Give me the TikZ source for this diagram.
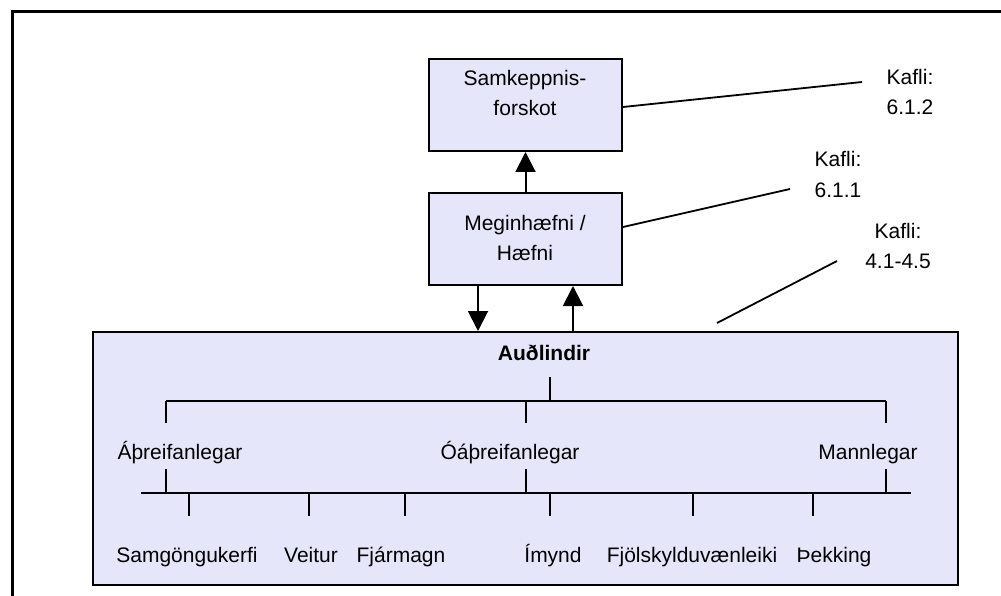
\documentclass[tikz,border=0pt]{standalone}
\usepackage{fontspec}
\setmainfont{Liberation Sans}
\usetikzlibrary{arrows.meta}
\definecolor{boxfill}{RGB}{230,230,250}
\begin{document}
\begin{tikzpicture}[x=1pt,y=-1pt,
  box/.style={draw=black,line width=2pt,fill=boxfill,inner sep=0pt},
  txt/.style={font=\fontsize{21}{30}\selectfont,inner sep=0pt,align=center,anchor=base},
  wire/.style={line width=2pt},
  lead/.style={line width=1.8pt},
  arr/.style={line width=2pt,-{Triangle[width=20pt,length=20pt]}},
]
\useasboundingbox (0,0) rectangle (1001,596);
\clip (0,0) rectangle (1001,596);
\fill[white] (0,0) rectangle (1001,596);
% page frame (only top and left edges fall inside)
\draw[line width=3pt] (12,700) -- (12,12) -- (1100,12);

% boxes
\node[box,minimum width=193pt,minimum height=92pt] (top) at (525.5,105) {};
\node[txt] (toptxt) at (525,115.5) {Samkeppnis-\\forskot};
\node[box,minimum width=193pt,minimum height=92pt] (mid) at (525.5,239) {};
\node[txt] (midtxt) at (525,260) {Meginhæfni /\\Hæfni};
\node[box,minimum width=865pt,minimum height=253pt] (res) at (525.5,458.5) {};

% arrows between boxes
\draw[arr] (mid.north) -- (top.south);
\draw[arr] ([xshift=-47.5pt]mid.south) -- ([xshift=-47.5pt]mid.south |- res.north);
\draw[arr] ([xshift=47.5pt]mid.south |- res.north) -- ([xshift=47.5pt]mid.south);

% chapter references
\node[txt] (k3) at (910,115) {Kafli:\\6.1.2};
\node[txt] (k2) at (838,197) {Kafli:\\6.1.1};
\node[txt] (k1) at (898,268.5) {Kafli:\\4.1-4.5};
\coordinate (k3end) at (862,82);
\coordinate (k2end) at (790,189);
\coordinate (k1end) at (837,261);
\coordinate (k1start) at (717,323);
\draw[lead] ([yshift=-2pt]top.east) -- (k3end);
\draw[lead] ([yshift=12pt]mid.east) -- (k2end);
\draw[lead] (k1start) -- (k1end);

% resource tree
\node[txt,font=\fontsize{21}{30}\selectfont\bfseries] (aud) at (544,360) {Auðlindir};
\node[txt] (apr) at (180,459) {Áþreifanlegar};
\node[txt] (oapr) at (510,459) {Óáþreifanlegar};
\node[txt] (mann) at (868,459) {Mannlegar};
\node[txt] (samg) at (187,562) {Samgöngukerfi};
\node[txt] (veit) at (311,562) {Veitur};
\node[txt] (fjar) at (401,562) {Fjármagn};
\node[txt] (imy) at (553,562) {Ímynd};
\node[txt] (fjol) at (692,562) {Fjölskylduvænleiki};
\node[txt] (thek) at (834,562) {Þekking};

\coordinate (root) at (550,377);
\coordinate (rootj) at (550,401);
\coordinate (ja) at (166,401);
\coordinate (jo) at (526,401);
\coordinate (jm) at (886,401);
\coordinate (la) at (166,423);
\coordinate (lo) at (526,423);
\coordinate (lm) at (886,423);
\coordinate (ua) at (166,469);
\coordinate (uo) at (526,469);
\coordinate (um) at (886,469);
\coordinate (ba) at (166,493);
\coordinate (bo) at (526,493);
\coordinate (bm) at (886,493);
\coordinate (bl) at (141,493);
\coordinate (br) at (911,493);

\draw[wire] (root) -- (rootj);
\draw[wire] (ja) -- (jm);
\draw[wire] (ja) -- (la);
\draw[wire] (jo) -- (lo);
\draw[wire] (jm) -- (lm);
\draw[wire] (ua) -- (ba);
\draw[wire] (uo) -- (bo);
\draw[wire] (um) -- (bm);
\draw[wire] (bl) -- (br);
\foreach \x/\n in {189/samg,309/veit,405/fjar,550/imy,693/fjol,813/thek}{
  \draw[wire] (\x,493) -- (\x,516);
}
\end{tikzpicture}
\end{document}
